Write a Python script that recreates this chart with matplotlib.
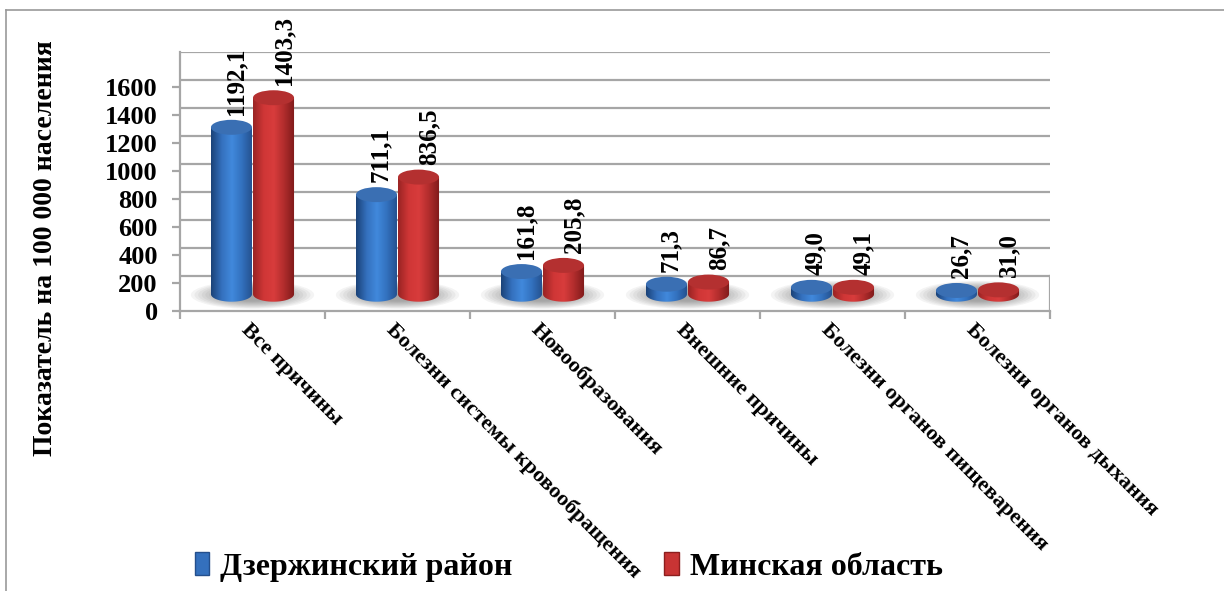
import numpy as np
import matplotlib.pyplot as plt
from matplotlib.colors import LinearSegmentedColormap
from matplotlib.patches import Ellipse, Polygon, Patch
from matplotlib.lines import Line2D

plt.rcParams['font.family'] = ['Liberation Serif', 'DejaVu Serif']
plt.rcParams['font.weight'] = 'bold'

categories = ['Все причины', 'Болезни системы кровообращения', 'Новообразования',
              'Внешние причины', 'Болезни органов пищеварения', 'Болезни органов дыхания']
dzer = [1192.1, 711.1, 161.8, 71.3, 49.0, 26.7]
minsk = [1403.3, 836.5, 205.8, 86.7, 49.1, 31.0]
dzer_labels = ['1192,1', '711,1', '161,8', '71,3', '49,0', '26,7']
minsk_labels = ['1403,3', '836,5', '205,8', '86,7', '49,1', '31,0']
series_names = ['Дзержинский район', 'Минская область']
yticks = [0, 200, 400, 600, 800, 1000, 1200, 1400, 1600]

# pseudo-3D layout (in y units of the front scale)
depth = 250      # floor depth
base = 120       # cylinder base on the floor
ell_h = 107      # height of the ellipse caps
bar_w = 0.283
shift = 0.145

W, H = 1224, 591
fig = plt.figure(figsize=(W / 100, H / 100), dpi=100)
ax = fig.add_axes([180 / W, 1 - 311 / H, 870 / W, 259 / H])
ax.set_xlim(0, 6)
ax.set_ylim(0, 1850)

grid_c = '#a6a6a6'
for v in yticks:
    ax.plot([0, 6], [v + depth, v + depth], color=grid_c, lw=1.6, zorder=1)
ax.plot([6, 6], [0, depth], color=grid_c, lw=1.6, zorder=1)

for s in ['top', 'right']:
    ax.spines[s].set_visible(False)
for s in ['left', 'bottom']:
    ax.spines[s].set_color(grid_c)
    ax.spines[s].set_linewidth(1.6)

ax.set_yticks(yticks)
ax.set_yticklabels([str(v) for v in yticks], fontsize=19, fontweight='bold')
ax.tick_params(axis='y', length=6, width=1.6, color=grid_c, pad=10)
ax.set_xticks(np.arange(7))
ax.set_xticklabels([])
ax.tick_params(axis='x', length=6, width=1.6, color=grid_c, direction='out')

fig.text(46 / W, 1 - 248 / H, 'Показатель на 100 000 населения', rotation=90,
         ha='center', va='center', fontsize=20, fontweight='bold')

blue_cmap = LinearSegmentedColormap.from_list('b', ['#1b4379', '#3470bd', '#4189dc', '#3270bd', '#244f8c'])
red_cmap = LinearSegmentedColormap.from_list('r', ['#9a2424', '#cf3636', '#d83c3c', '#b02c2c', '#7e1a1a'])
grad = np.linspace(0, 1, 64).reshape(1, -1)


def cylinder(cx, val, cmap, top_color):
    x0, x1 = cx - bar_w / 2, cx + bar_w / 2
    top = base + val
    t = np.linspace(np.pi, 2 * np.pi, 40)
    arc = np.column_stack([cx + bar_w / 2 * np.cos(t), base + ell_h / 2 * np.sin(t)])
    pts = np.vstack([[[x0, top]], arc, [[x1, top]]])
    body = Polygon(pts, closed=True, facecolor='none', edgecolor='none')
    ax.add_patch(body)
    im = ax.imshow(grad, cmap=cmap, aspect='auto', extent=[x0, x1, base - ell_h / 2, top],
                   zorder=3, interpolation='bilinear')
    im.set_clip_path(body)
    ax.add_patch(Ellipse((cx, top), bar_w, ell_h, facecolor=top_color, edgecolor='none', zorder=4))


for i in range(len(categories)):
    c = i + 0.5
    # soft shadow on the floor
    for k in range(10):
        ax.add_patch(Ellipse((c, base - 5), 0.85 - k * 0.05, 200 - k * 12,
                             facecolor='#444444', alpha=0.06, edgecolor='none', zorder=2))
    cylinder(c - shift, dzer[i], blue_cmap, '#3a6fb3')
    cylinder(c + shift, minsk[i], red_cmap, '#b43030')
    ax.annotate(dzer_labels[i], (c - shift + 0.03, base + dzer[i]), xytext=(0, 9),
                textcoords='offset points', rotation=90, ha='center', va='bottom',
                fontsize=18, fontweight='bold', zorder=5)
    ax.annotate(minsk_labels[i], (c + shift + 0.07, base + minsk[i]), xytext=(0, 9),
                textcoords='offset points', rotation=90, ha='center', va='bottom',
                fontsize=18, fontweight='bold', zorder=5)
    ax.text(c - 0.01, -60, categories[i], rotation=-45, rotation_mode='anchor',
            ha='left', va='top', fontsize=16, fontweight='bold')

handles = [Patch(facecolor='#3470bd', edgecolor='#244f8c'),
           Patch(facecolor='#c83434', edgecolor='#8c1e1e')]
fig.legend(handles, series_names, loc='center left', bbox_to_anchor=(166 / W, 1 - 567 / H),
           ncol=2, frameon=False, handlelength=0.45, handleheight=0.7,
           handletextpad=0.35, columnspacing=4.75, prop={'weight': 'bold', 'size': 23})

# outer frame
fig.add_artist(Line2D([6 / W, 1], [1 - 10 / H, 1 - 10 / H], color='#999999', lw=1.2,
                      transform=fig.transFigure))
fig.add_artist(Line2D([6 / W, 6 / W], [0, 1 - 10 / H], color='#999999', lw=1.2,
                      transform=fig.transFigure))

fig.savefig('out.png', dpi=100)
